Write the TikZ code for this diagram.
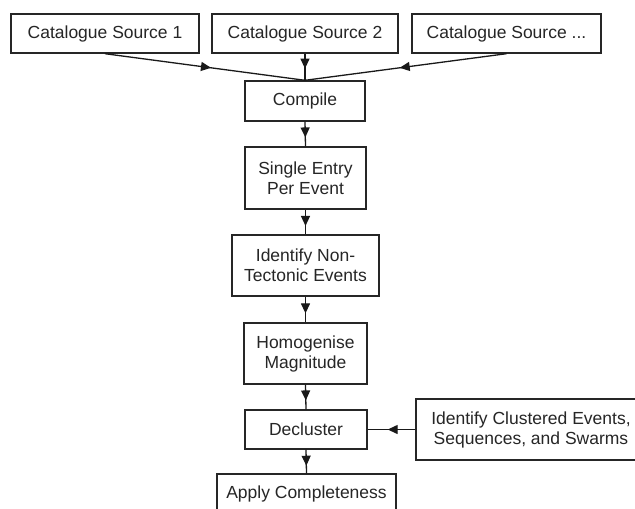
\documentclass[tikz,border=0pt]{standalone}
\usepackage{fontspec}
\setmainfont{Liberation Sans}
\usetikzlibrary{arrows.meta,decorations.markings}
\tikzset{
  box/.style={draw=black!85, line width=1.4pt, align=center, inner sep=0pt,
    font=\fontsize{17.5}{20}\selectfont, text=black!85},
  conn/.style={draw=black!90, line width=1.3pt},
  midarrow/.style={conn, postaction={decorate},
    decoration={markings, mark=at position #1 with {\arrow{Triangle[length=10pt,width=9pt]}}}}
}
\begin{document}
\begin{tikzpicture}[x=1pt,y=-1pt]
\clip (0,0) rectangle (635,509);
\fill[white] (0,0) rectangle (635,509);
\node[box, minimum width=188pt, minimum height=39pt] (s1) at (105,33.5) {Catalogue Source 1};
\node[box, minimum width=186pt, minimum height=39pt] (s2) at (305,33.5) {Catalogue Source 2};
\node[box, minimum width=189pt, minimum height=39pt] (s3) at (506.5,33.5) {Catalogue Source ...};
\node[box, minimum width=120pt, minimum height=40pt] (c) at (305,101) {Compile};
\node[box, minimum width=121pt, minimum height=62pt] (se) at (305.5,178) {Single Entry\\Per Event};
\node[box, minimum width=147pt, minimum height=61pt] (nt) at (305.5,265.5) {Identify Non-\\Tectonic Events};
\node[box, minimum width=123pt, minimum height=61pt] (hm) at (305.5,353.5) {Homogenise\\Magnitude};
\node[box, minimum width=122pt, minimum height=39pt] (dc) at (306,429.5) {Decluster};
\node[box, minimum width=179pt, minimum height=39pt] (ac) at (306.5,493.5) {Apply Completeness};
\node[box, minimum width=230pt, minimum height=61pt] (ce) at (531,429.5) {Identify Clustered Events,\\Sequences, and Swarms};
\draw[midarrow=0.53] (s1.south) -- (c.north);
\draw[midarrow=0.56] (s2.south) -- (c.north);
\draw[midarrow=0.53] (s3.south) -- (c.north);
\draw[midarrow=0.64] (c.south) -- (se.north);
\draw[midarrow=0.66] (se.south) -- (nt.north);
\draw[midarrow=0.65] (nt.south) -- (hm.north);
\draw[midarrow=0.64] (hm.south) -- (dc.north);
\draw[midarrow=0.68] (dc.south) -- (ac.north);
\draw[midarrow=0.58] (ce.west) -- (dc.east);
\end{tikzpicture}
\end{document}
